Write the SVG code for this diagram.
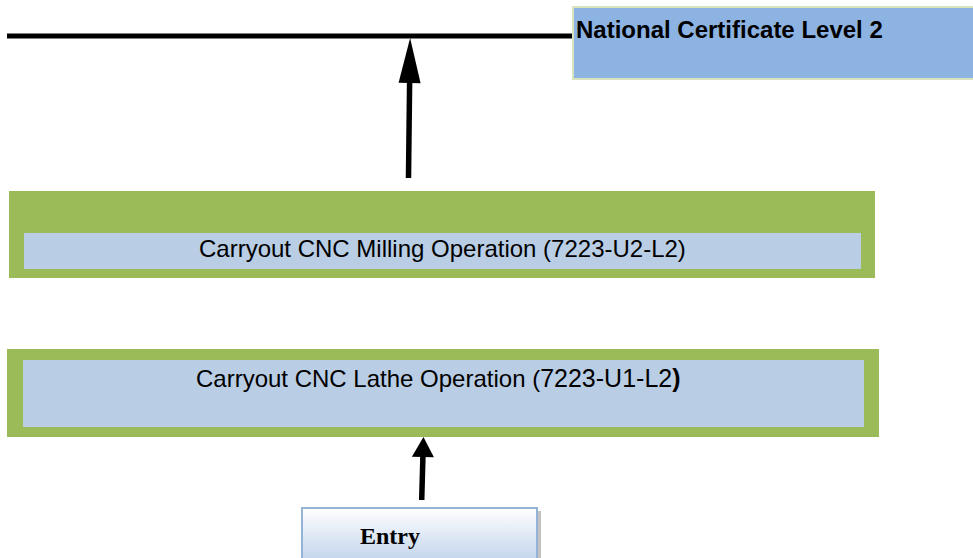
<svg xmlns="http://www.w3.org/2000/svg" width="973" height="558" viewBox="0 0 973 558">
  <defs>
    <style>
      .outer { fill: #9bbb59; }
      .inner { fill: #b9cde5; }
      .lbl { font-family: "Liberation Sans", Arial, sans-serif; fill: #000; }
      .shaft { stroke: #000; stroke-width: 5.5; fill: none; }
    </style>
    <linearGradient id="entryGrad" x1="0" y1="0" x2="0" y2="1">
      <stop offset="0" stop-color="#ffffff"/>
      <stop offset="1" stop-color="#c3d5ec"/>
    </linearGradient>
    <marker id="headLong" markerUnits="userSpaceOnUse" markerWidth="46" markerHeight="22" refX="0" refY="11" orient="auto" overflow="visible">
      <path d="M0,0 L45,11 L0,22 Z" fill="#000"/>
    </marker>
    <marker id="headShort" markerUnits="userSpaceOnUse" markerWidth="22" markerHeight="22" refX="0" refY="11" orient="auto" overflow="visible">
      <path d="M0,0 L20,11 L0,22 Z" fill="#000"/>
    </marker>
  </defs>
  <rect width="973" height="558" fill="#ffffff"/>

  <g id="connectors">
    <line x1="7" y1="36" x2="574" y2="36" stroke="#000" stroke-width="5"/>
    <line class="shaft" x1="408.5" y1="178" x2="409.6" y2="83" marker-end="url(#headLong)"/>
    <line class="shaft" x1="421.7" y1="500" x2="422.9" y2="457" marker-end="url(#headShort)"/>
  </g>

  <g id="national-certificate">
    <rect x="573" y="7" width="402" height="72" fill="#8db3e2" stroke="#d7e4bd" stroke-width="2"/>
    <text class="lbl" x="576" y="37.5" font-size="24" font-weight="bold">National Certificate Level 2</text>
  </g>

  <g id="milling">
    <rect class="outer" x="9" y="191" width="866" height="87"/>
    <rect class="inner" x="24" y="233" width="837" height="36"/>
    <text class="lbl" x="199" y="256.5" font-size="24">Carryout CNC Milling Operation (7223-U2-L2)</text>
  </g>

  <g id="lathe">
    <rect class="outer" x="7" y="349" width="872" height="88"/>
    <rect class="inner" x="23" y="360" width="841" height="67"/>
    <text class="lbl" x="196" y="386.5" font-size="24">Carryout CNC Lathe Operation (<tspan font-size="25">7223-U1-L2</tspan><tspan font-size="25" font-weight="bold">)</tspan></text>
  </g>

  <g id="entry">
    <rect x="305" y="511" width="236" height="50" fill="#9a9a9a" opacity="0.6"/>
    <rect x="302" y="508" width="235" height="52" fill="url(#entryGrad)" stroke="#95b3d7" stroke-width="2"/>
    <text x="390" y="544" font-family="'Liberation Serif', 'Times New Roman', serif" font-size="24" font-weight="bold" text-anchor="middle" fill="#000">Entry</text>
  </g>
</svg>
